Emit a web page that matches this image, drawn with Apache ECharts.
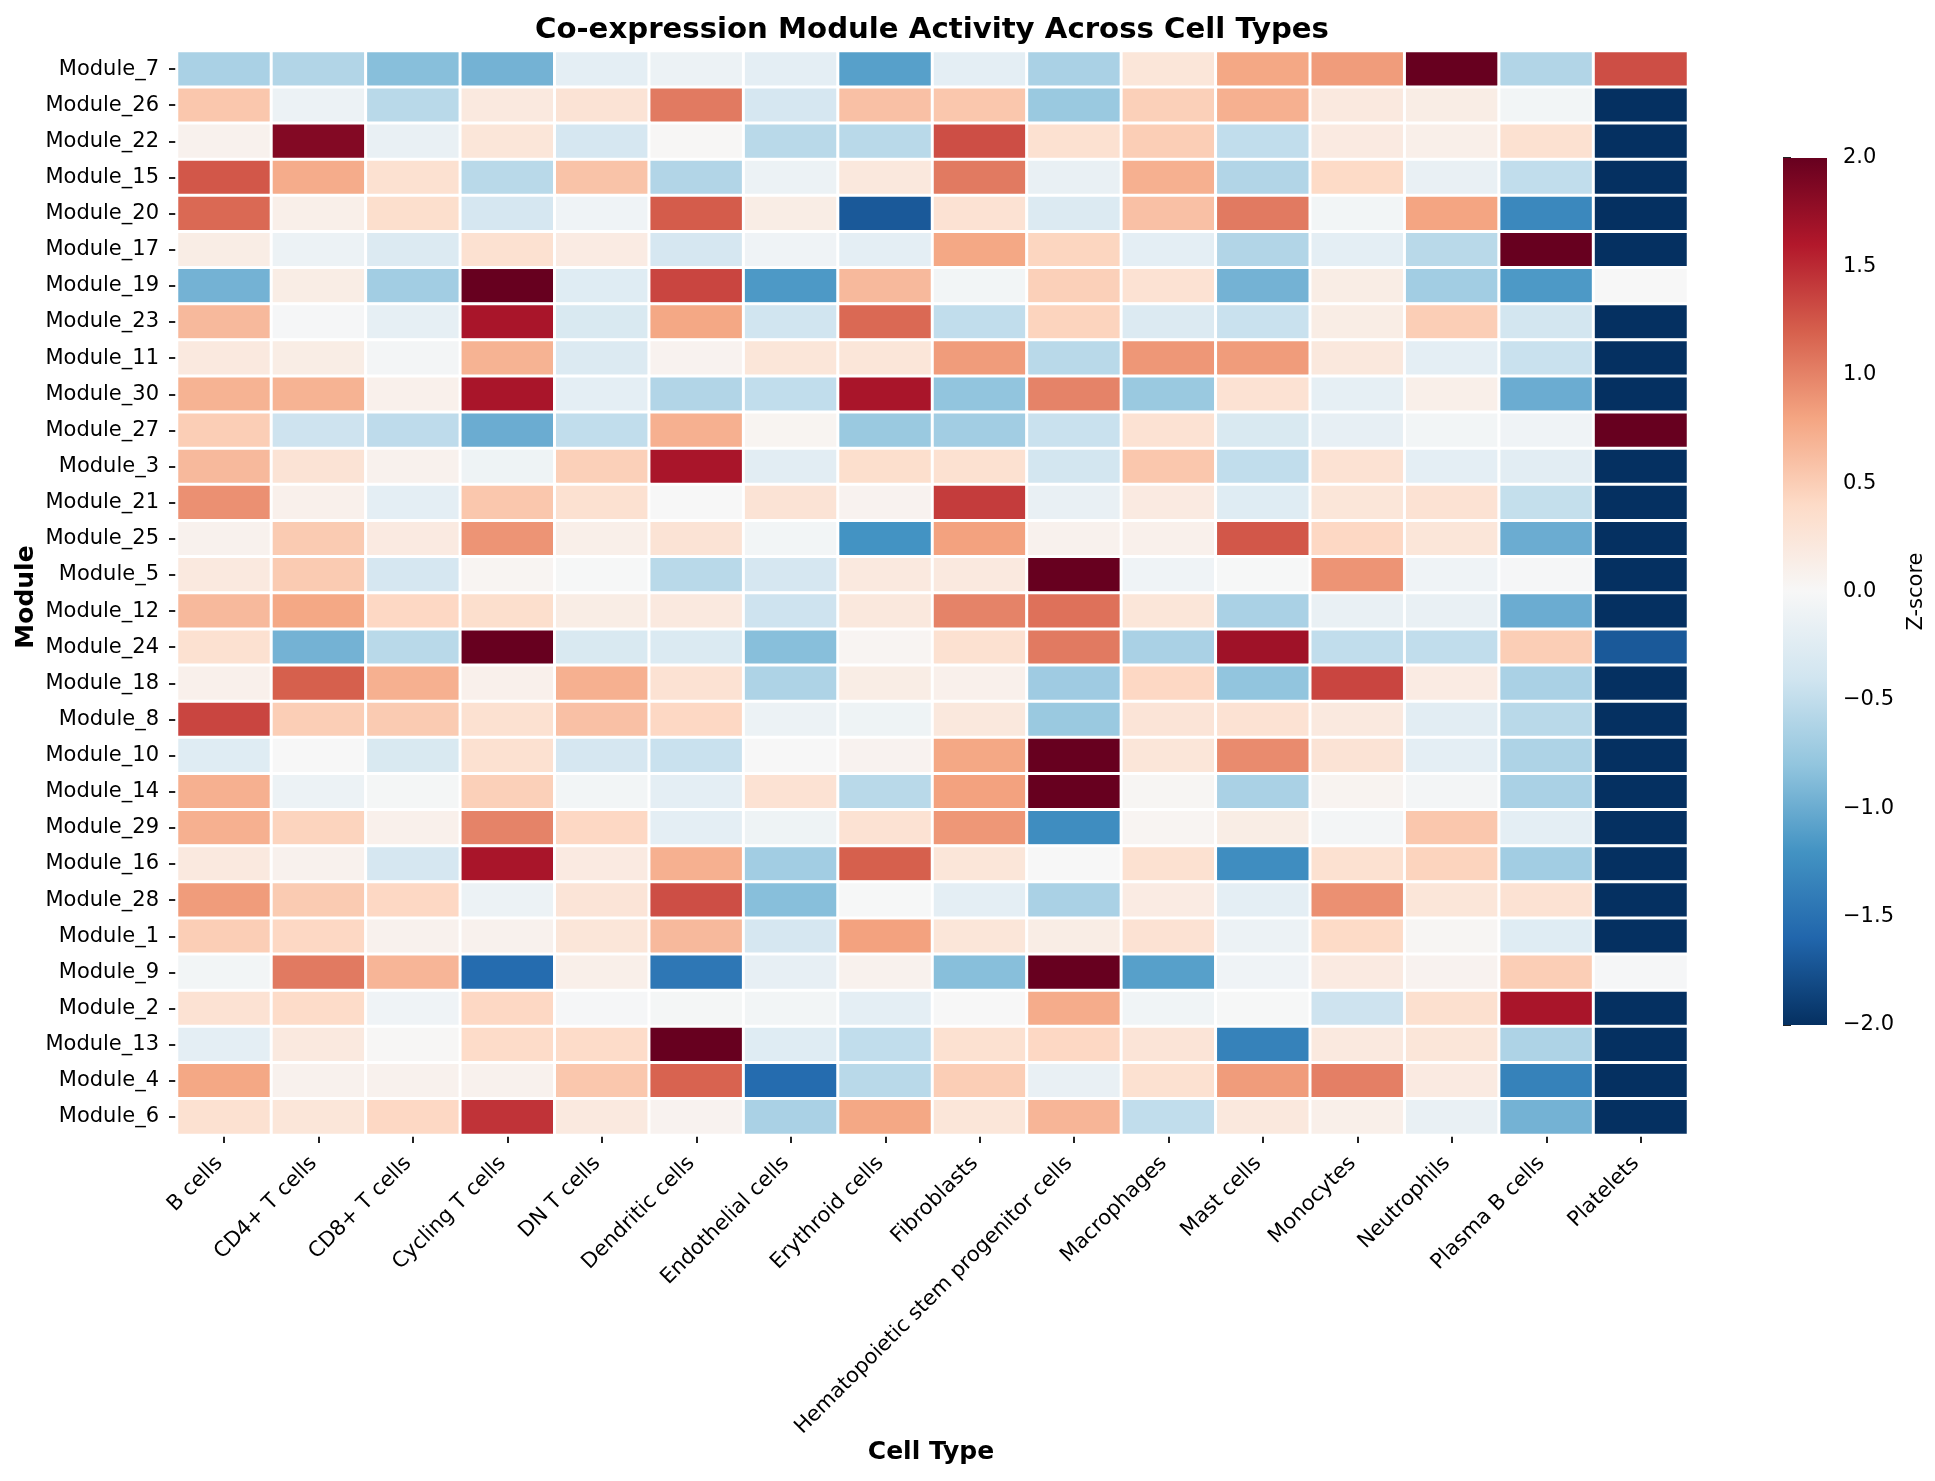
<!DOCTYPE html>
<html>
<head>
<meta charset="utf-8">
<style>html,body{margin:0;padding:0;background:#fff}#c{width:1935px;height:1481px}</style>
<script src="https://cdn.jsdelivr.net/npm/echarts@6/dist/echarts.min.js"></script>
</head>
<body>
<div id="c"></div>
<script>
const cellTypes = ["B cells","CD4+ T cells","CD8+ T cells","Cycling T cells","DN T cells","Dendritic cells","Endothelial cells","Erythroid cells","Fibroblasts","Hematopoietic stem progenitor cells","Macrophages","Mast cells","Monocytes","Neutrophils","Plasma B cells","Platelets"];
const modules = ["Module_7","Module_26","Module_22","Module_15","Module_20","Module_17","Module_19","Module_23","Module_11","Module_30","Module_27","Module_3","Module_21","Module_25","Module_5","Module_12","Module_24","Module_18","Module_8","Module_10","Module_14","Module_29","Module_16","Module_28","Module_1","Module_9","Module_2","Module_13","Module_4","Module_6"];
const m7 = [-0.65,-0.6,-0.85,-0.95,-0.2,-0.12,-0.2,-1.1,-0.2,-0.65,0.25,0.78,0.85,2,-0.6,1.3];
const m26 = [0.55,-0.12,-0.55,0.2,0.28,1.05,-0.35,0.6,0.55,-0.75,0.48,0.72,0.2,0.15,-0.05,-2];
const m22 = [0.08,1.85,-0.15,0.25,-0.35,0.02,-0.55,-0.55,1.3,0.32,0.5,-0.5,0.18,0.12,0.32,-2];
const m15 = [1.25,0.75,0.32,-0.55,0.58,-0.6,-0.12,0.22,1.05,-0.15,0.72,-0.6,0.4,-0.15,-0.5,-2];
const m20 = [1.15,0.12,0.35,-0.35,-0.08,1.22,0.15,-1.7,0.3,-0.28,0.6,1.05,-0.05,0.8,-1.3,-2];
const m17 = [0.15,-0.12,-0.28,0.32,0.17,-0.35,-0.08,-0.2,0.78,0.44,-0.2,-0.6,-0.2,-0.55,2,-2];
const m19 = [-0.95,0.15,-0.7,2,-0.25,1.35,-1.15,0.65,-0.05,0.48,0.3,-0.95,0.15,-0.7,-1.15,0];
const m23 = [0.65,-0.02,-0.18,1.65,-0.32,0.78,-0.4,1.15,-0.5,0.45,-0.28,-0.45,0.15,0.5,-0.38,-2];
const m11 = [0.2,0.15,-0.04,0.7,-0.28,0.07,0.25,0.25,0.85,-0.55,0.88,0.85,0.22,-0.2,-0.45,-2];
const m30 = [0.7,0.7,0.1,1.65,-0.2,-0.6,-0.5,1.65,-0.8,1,-0.75,0.3,-0.18,0.12,-1,-2];
const m27 = [0.5,-0.42,-0.52,-1,-0.5,0.72,0.05,-0.75,-0.7,-0.45,0.3,-0.32,-0.17,-0.05,-0.08,2];
const m3 = [0.65,0.28,0.08,-0.1,0.48,1.65,-0.22,0.35,0.32,-0.38,0.55,-0.5,0.3,-0.2,-0.22,-2];
const m21 = [0.92,0.1,-0.2,0.55,0.32,0,0.28,0.07,1.4,-0.15,0.18,-0.25,0.25,0.3,-0.48,-2];
const m25 = [0.08,0.52,0.18,0.9,0.12,0.28,-0.05,-1.2,0.82,0.08,0.1,1.25,0.42,0.25,-1,-2];
const m5 = [0.2,0.52,-0.35,0.04,-0.01,-0.55,-0.35,0.2,0.2,2,-0.08,-0.01,0.9,-0.08,-0.02,-2];
const m12 = [0.65,0.78,0.42,0.35,0.15,0.2,-0.42,0.22,1,1.1,0.25,-0.65,-0.15,-0.15,-1,-2];
const m24 = [0.32,-0.95,-0.55,2,-0.32,-0.3,-0.85,0.04,0.32,1.05,-0.65,1.7,-0.5,-0.5,0.5,-1.7];
const m18 = [0.1,1.2,0.72,0.1,0.72,0.3,-0.62,0.15,0.1,-0.72,0.42,-0.8,1.35,0.17,-0.65,-2];
const m8 = [1.35,0.5,0.52,0.32,0.6,0.42,-0.12,-0.1,0.22,-0.75,0.27,0.3,0.2,-0.22,-0.55,-2];
const m10 = [-0.25,0,-0.32,0.32,-0.35,-0.45,0,0.07,0.78,2,0.25,0.95,0.28,-0.2,-0.62,-2];
const m14 = [0.72,-0.12,-0.03,0.48,-0.05,-0.2,0.3,-0.55,0.82,2,0.03,-0.65,0.06,-0.04,-0.65,-2];
const m29 = [0.72,0.45,0.1,1,0.42,-0.2,-0.1,0.3,0.88,-1.25,0.04,0.15,-0.04,0.55,-0.2,-2];
const m16 = [0.2,0.08,-0.35,1.65,0.18,0.72,-0.7,1.2,0.25,0,0.32,-1.25,0.32,0.45,-0.7,-2];
const m28 = [0.85,0.52,0.42,-0.12,0.27,1.3,-0.85,-0.01,-0.2,-0.65,0.17,-0.2,0.92,0.25,0.3,-2];
const m1 = [0.5,0.42,0.08,0.08,0.25,0.65,-0.35,0.82,0.25,0.15,0.3,-0.12,0.4,0.03,-0.25,-2];
const m9 = [-0.05,1.05,0.68,-1.55,0.12,-1.45,-0.17,0.08,-0.85,2,-1.1,-0.08,0.18,0.07,0.5,-0.02];
const m2 = [0.3,0.38,-0.08,0.42,-0.02,-0.03,-0.05,-0.2,0,0.75,-0.07,-0.01,-0.42,0.33,1.65,-2];
const m13 = [-0.2,0.2,0.02,0.38,0.38,2,-0.25,-0.5,0.32,0.42,0.27,-1.35,0.2,0.25,-0.62,-2];
const m4 = [0.78,0.08,0.08,0.08,0.55,1.18,-1.55,-0.55,0.5,-0.15,0.32,0.85,1.02,0.18,-1.35,-2];
const m6 = [0.32,0.25,0.42,1.45,0.2,0.07,-0.65,0.78,0.25,0.68,-0.5,0.22,0.12,-0.15,-0.95,-2];
const rows = [m7,m26,m22,m15,m20,m17,m19,m23,m11,m30,m27,m3,m21,m25,m5,m12,m24,m18,m8,m10,m14,m29,m16,m28,m1,m9,m2,m13,m4,m6];
const rdbuR = ["#053061","#2166ac","#4393c3","#92c5de","#d1e5f0","#f7f7f7","#fddbc7","#f4a582","#d6604d","#b2182b","#67001f"];
const scaleEnds = [-2,2];

const cells = [];
rows.forEach((row, r) => row.forEach((v, c) => cells.push([c, r, v])));
const FONT = "DejaVu Sans";
const barStops = rdbuR.map((color, i) => ({offset: i / (rdbuR.length - 1), color}));
const chart = echarts.init(document.getElementById('c'), null, {renderer:'canvas', width:1935, height:1481});
chart.setOption({
  animation:false,
  backgroundColor:'#fff',
  textStyle:{fontFamily:FONT,color:'#000'},
  title:{text:'Co-expression Module Activity Across Cell Types',left:927,top:11,textAlign:'center',
    textStyle:{fontFamily:FONT,fontWeight:'bold',fontSize:29.2,color:'#000'}},
  tooltip:{show:false},
  graphic:[
    {type:'text',x:26,y:597,rotation:Math.PI/2,
     style:{text:'Module',align:'center',verticalAlign:'middle',fontFamily:FONT,fontWeight:'bold',fontSize:25,fill:'#000'}},
    {type:'text',x:931,y:1452,
     style:{text:'Cell Type',align:'center',verticalAlign:'middle',fontFamily:FONT,fontWeight:'bold',fontSize:25,fill:'#000'}}
  ],
  grid:[
    {left:177,top:51,width:1511,height:1084,containLabel:false,outerBoundsMode:'none'},
    {left:1783,top:158,width:44,height:867,containLabel:false,outerBoundsMode:'none'}
  ],
  xAxis:[
    {type:'category',data:cellTypes,gridIndex:0,position:'bottom',
     axisLine:{show:false},splitLine:{show:false},splitArea:{show:false},
     axisTick:{show:true,alignWithLabel:true,length:8,lineStyle:{color:'#222',width:2}},
     axisLabel:{interval:0,rotate:45,align:'right',verticalAlign:'bottom',lineHeight:14,margin:30,fontFamily:FONT,fontSize:21,color:'#000',hideOverlap:false}},
    {type:'value',gridIndex:1,min:0,max:1,show:false}
  ],
  yAxis:[
    {type:'category',data:modules,gridIndex:0,inverse:true,
     axisLine:{show:false},splitLine:{show:false},splitArea:{show:false},
     axisTick:{show:true,alignWithLabel:true,length:8,lineStyle:{color:'#222',width:2}},
     axisLabel:{interval:0,margin:18,fontFamily:FONT,fontSize:21,color:'#000',hideOverlap:false}},
    {type:'value',gridIndex:1,min:-2,max:2,interval:0.5,position:'right',
     axisLine:{show:false},splitLine:{show:false},
     axisTick:{show:true,length:8,lineStyle:{color:'#222',width:2}},
     axisLabel:{margin:16,fontFamily:FONT,fontSize:21,color:'#000',formatter:v=>v.toFixed(1).replace('-','\u2212')},
     name:'Z-score',nameLocation:'middle',nameGap:79,nameRotate:90,nameTextStyle:{fontFamily:FONT,fontSize:21,color:'#000'}}
  ],
  visualMap:{type:'continuous',show:false,min:-2,max:2,dimension:2,seriesIndex:0,inRange:{color:rdbuR}},
  series:[
    {type:'heatmap',data:cells,xAxisIndex:0,yAxisIndex:0,
     itemStyle:{borderColor:'#fff',borderWidth:3},emphasis:{disabled:true},label:{show:false},progressive:0},
    {type:'custom',xAxisIndex:1,yAxisIndex:1,data:[scaleEnds],silent:true,clip:false,
     encode:{y:[0,1]},
     renderItem:(params, api) => {
       const a = api.coord([0, api.value(1)]);
       const b = api.coord([1, api.value(0)]);
       return {type:'rect',shape:{x:a[0],y:a[1],width:b[0]-a[0],height:b[1]-a[1]},
         style:{fill:new echarts.graphic.LinearGradient(0,1,0,0,barStops)}};
     }}
  ]
});
</script>
</body>
</html>
